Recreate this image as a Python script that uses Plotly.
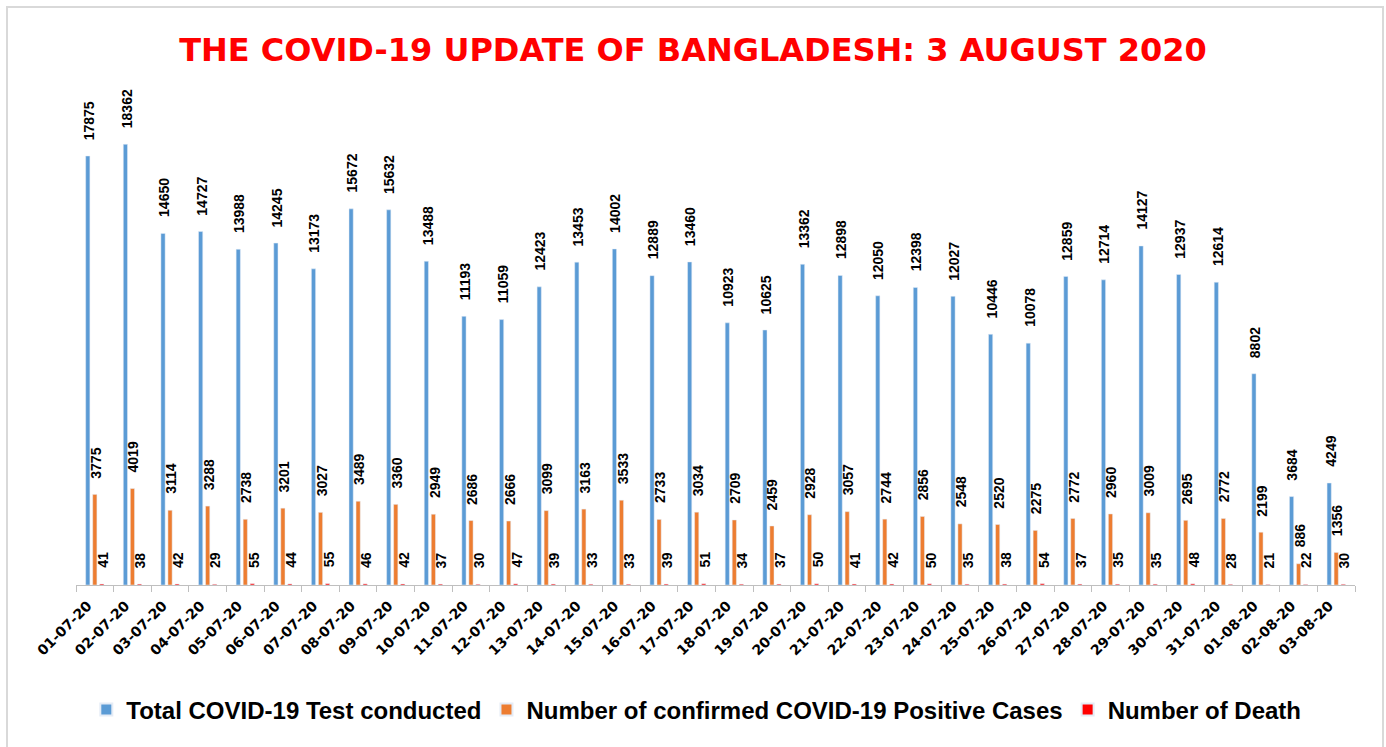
import plotly.graph_objects as go

dates = ["01-07-20","02-07-20","03-07-20","04-07-20","05-07-20","06-07-20","07-07-20","08-07-20",
         "09-07-20","10-07-20","11-07-20","12-07-20","13-07-20","14-07-20","15-07-20","16-07-20",
         "17-07-20","18-07-20","19-07-20","20-07-20","21-07-20","22-07-20","23-07-20","24-07-20",
         "25-07-20","26-07-20","27-07-20","28-07-20","29-07-20","30-07-20","31-07-20","01-08-20",
         "02-08-20","03-08-20"]
tests = [17875,18362,14650,14727,13988,14245,13173,15672,15632,13488,11193,11059,12423,13453,
         14002,12889,13460,10923,10625,13362,12898,12050,12398,12027,10446,10078,12859,12714,
         14127,12937,12614,8802,3684,4249]
positives = [3775,4019,3114,3288,2738,3201,3027,3489,3360,2949,2686,2666,3099,3163,3533,2733,
             3034,2709,2459,2928,3057,2744,2856,2548,2520,2275,2772,2960,3009,2695,2772,2199,
             886,1356]
deaths = [41,38,42,29,55,44,55,46,42,37,30,47,39,33,33,39,51,34,37,50,41,42,50,35,38,54,37,
          35,35,48,28,21,22,30]

series = [
    ("Total COVID-19 Test conducted", tests, "#5B9BD5"),
    ("Number of confirmed COVID-19 Positive Cases", positives, "#ED7D31"),
    ("Number of Death", deaths, "#FF0000"),
]

PLOT_W = 1386 - 76 - 31
cat_w = PLOT_W / len(dates)
bargap = 0.44
slot = cat_w * (1 - bargap) / len(series)

fig = go.Figure()
annotations = []
for i, (name, vals, color) in enumerate(series):
    fig.add_trace(go.Bar(x=dates, y=vals, name=name, marker_color=color))
    offset = (i - (len(series) - 1) / 2) * slot
    for d, v in zip(dates, vals):
        annotations.append(dict(
            x=d, y=v, xref="x", yref="y", text=str(v), showarrow=False,
            textangle=-90, xanchor="center", yanchor="bottom",
            xshift=offset + 1, yshift=14,
            font=dict(family="Liberation Sans", size=14, color="black", weight="bold"),
        ))

fig.update_layout(
    width=1386, height=747,
    paper_bgcolor="white", plot_bgcolor="white",
    margin=dict(l=76, r=31, t=105, b=162),
    barmode="group", bargap=bargap, bargroupgap=0.4,
    title=dict(text="THE COVID-19 UPDATE OF BANGLADESH: 3 AUGUST 2020",
               x=0.5, xanchor="center", y=0.933, yanchor="middle",
               font=dict(family="DejaVu Sans", size=32, color="#FF0000", weight="bold")),
    showlegend=True,
    legend=dict(orientation="h", x=0.485, xanchor="center", y=-0.26, yanchor="middle",
                font=dict(family="Liberation Sans", size=24, color="black", weight="bold"),
                itemsizing="constant", traceorder="normal"),
    xaxis=dict(type="category", tickangle=-45, showline=True, linecolor="#BFBFBF", linewidth=1,
               ticks="outside", tickson="boundaries", ticklen=6, tickcolor="#BFBFBF",
               ticklabelshift=-7, ticklabelstandoff=6,
               tickfont=dict(family="DejaVu Sans", size=14, color="black", weight="bold"),
               showgrid=False),
    yaxis=dict(range=[0, 20000], visible=False, showgrid=False),
    annotations=annotations,
    shapes=[dict(type="rect", xref="paper", yref="paper",
                 x0=-69/1279, x1=1+28/1279, y0=-170/480, y1=1+98/480,
                 line=dict(color="#D9D9D9", width=2), fillcolor="rgba(0,0,0,0)")],
)

fig.write_html("out.html", config={"displayModeBar": False},
               post_script="document.body.style.margin='0px';")
